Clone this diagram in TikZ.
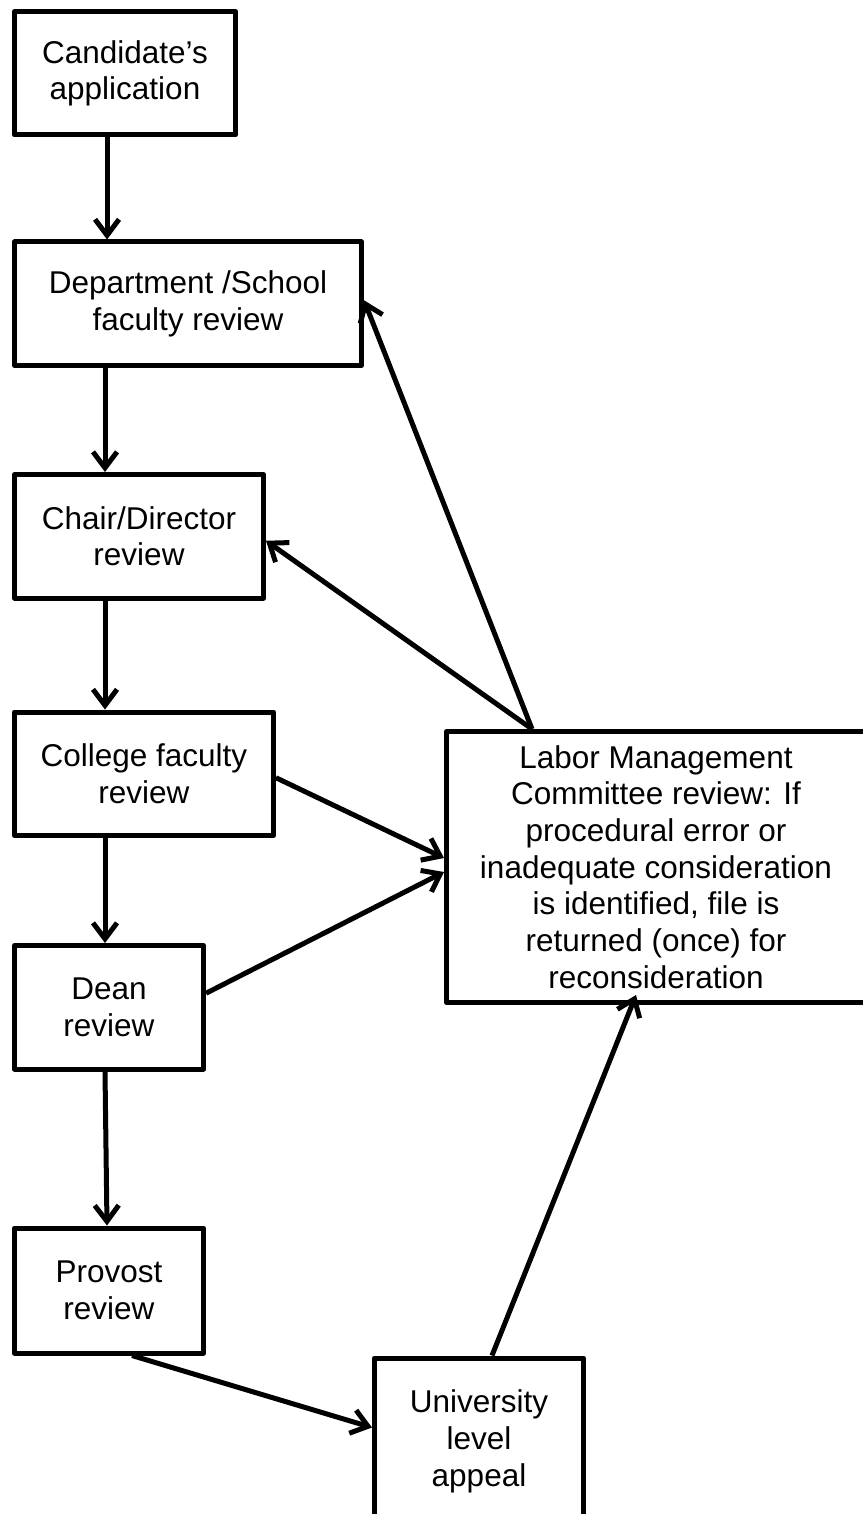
\documentclass[tikz,border=0pt]{standalone}
\usepackage{fontspec}
\setmainfont{Liberation Sans}
\usetikzlibrary{positioning}
\usetikzlibrary{arrows.meta}

\begin{document}
\begin{tikzpicture}[x=1pt, y=-1pt, rnode/.style={rectangle,draw=black,line width=5pt,line join=round,align=center,inner sep=0pt,minimum height=123.5pt,font=\fontsize{31.5}{36.7}\selectfont}, arr/.style={line width=5pt,-{Straight Barb[length=16pt,width=24pt]}}]
		\useasboundingbox (0,0) rectangle (862,1514);
		\node[rnode, minimum width=221pt, anchor=north west] (cand) at (12,9) {Candidate’s\\application};
		\node[rnode, minimum width=347pt, below=102pt of cand.south west, anchor=north west] (dept) {Department /School\\faculty review};
		\node[rnode, minimum width=249pt, below=104pt of dept.south west, anchor=north west] (chair) {Chair/Director\\review};
		\node[rnode, minimum width=259pt, below=109pt of chair.south west, anchor=north west] (college) {College faculty\\review};
		\node[rnode, minimum width=189pt, below=105pt of college.south west, anchor=north west] (dean) {Dean\\review};
		\node[rnode, minimum width=189pt, minimum height=125pt, below=154pt of dean.south west, anchor=north west] (provost) {Provost\\review};
		\node[rnode, minimum width=209pt, minimum height=167pt, right=166pt of provost.south east, anchor=north west] (appeal) {University\\level\\appeal};
		\node[rnode, minimum width=419pt, minimum height=271pt, anchor=north west] (lmc) at (444,729) {Labor Management\\Committee review: If\\procedural error or\\inadequate consideration\\is identified, file is\\returned (once) for\\reconsideration};
		\draw[arr] ([xshift=95pt]cand.south west) -- ([xshift=95pt]dept.north west);
		\draw[arr] ([xshift=93pt]dept.south west) -- ([xshift=93pt]chair.north west);
		\draw[arr] ([xshift=93pt]chair.south west) -- ([xshift=93pt]college.north west);
		\draw[arr] ([xshift=93pt]college.south west) -- ([xshift=93pt]dean.north west);
		\draw[arr] ([xshift=93pt]dean.south west) -- ([xshift=95pt]provost.north west);
		\draw[arr] ([xshift=88pt]lmc.north west) -- ([yshift=3.5pt]dept.east);
		\draw[arr] ([xshift=88pt]lmc.north west) -- ([yshift=-4.5pt]chair.east);
		\draw[arr] ([yshift=-4pt]college.east) -- ([yshift=9pt]lmc.west);
		\draw[arr] ([yshift=14pt]dean.east) -- ([yshift=-5pt]lmc.west);
		\draw[arr] ([xshift=120pt]provost.south west) -- ([yshift=14pt]appeal.west);
		\draw[arr] ([xshift=120pt]appeal.north west) -- ([xshift=192pt,yshift=10pt]lmc.south west);
	\end{tikzpicture}
\end{document}
